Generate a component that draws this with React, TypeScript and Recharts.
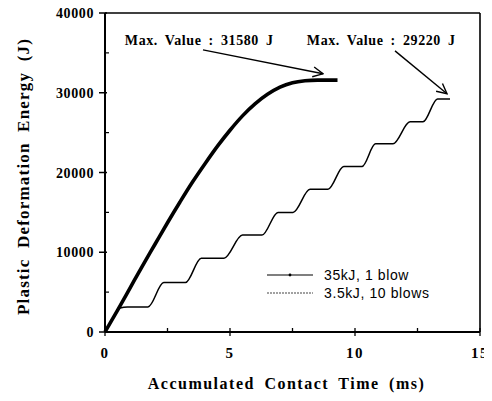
import { LineChart, Line, XAxis, YAxis, ReferenceLine, ReferenceDot, Legend } from "recharts";

// 35 kJ, single blow (thick curve)
const singleBlowTime = [0, 0.5, 1, 1.5, 2, 2.5, 3, 3.5, 4, 4.5, 5, 5.5, 6, 6.5, 7, 7.5, 8, 8.5, 9.3];
const singleBlowEnergy = [0, 2700, 5500, 8300, 11000, 13700, 16300, 18800, 21100, 23300, 25300, 27100, 28600, 29800, 30700, 31250, 31500, 31580, 31580];

// 3.5 kJ, 10 blows (stair curve)
const tenBlowTime = [0, 0.3, 0.6, 0.9, 1.72, 2.35, 3.22, 3.85, 4.76, 5.5, 6.28, 6.92, 7.52, 8.2, 8.92, 9.55, 10.28, 10.82, 11.52, 12.2, 12.72, 13.3, 13.8];
const tenBlowEnergy = [0, 1650, 3000, 3150, 3150, 6200, 6200, 9250, 9250, 12150, 12150, 15000, 15000, 17900, 17900, 20750, 20750, 23600, 23600, 26350, 26350, 29220, 29220];

const seriesNames = ["35kJ, 1 blow", "3.5kJ, 10 blows"];

const xTicks = [0, 2.5, 5, 7.5, 10, 12.5, 15];
const xLabelled = [0, 5, 10, 15];
const yTicks = [0, 5000, 10000, 15000, 20000, 25000, 30000, 35000, 40000];
const yLabelled = [0, 10000, 20000, 30000, 40000];

// "Max. Value" notes: text anchor and arrow from/to, in data units
const noteTexts = ["Max. Value : 31580 J", "Max. Value : 29220 J"];
const noteAt = [[3.77, 36600], [11.05, 36600]];
const arrowFrom = [[3.92, 35375], [11.6, 35250]];
const arrowTo = [[8.72, 32375], [13.68, 29875]];

const singleData = singleBlowTime.map((t, i) => ({ t, e: singleBlowEnergy[i] }));
const tenData = tenBlowTime.map((t, i) => ({ t, e: tenBlowEnergy[i] }));

const SERIF = "'Liberation Serif', 'Times New Roman', serif";
const SANS = "'Liberation Sans', Arial, sans-serif";

function YTick({ x, y, payload }: any) {
  const axisX = x + 9;
  const major = yLabelled.includes(payload.value);
  return (
    <g>
      {major ? (
        <line x1={axisX - 6} y1={y} x2={axisX + 2} y2={y} stroke="#000" strokeWidth={1.5} />
      ) : (
        <line x1={axisX} y1={y} x2={axisX + 4} y2={y} stroke="#000" strokeWidth={1.2} />
      )}
      {major && (
        <text x={x - 2} y={y} dy="0.36em" textAnchor="end" fontFamily={SERIF} fontWeight="bold" fontSize={14} letterSpacing={0.6} fill="#000">
          {payload.value}
        </text>
      )}
    </g>
  );
}

function XTick({ x, y, payload }: any) {
  const axisY = y - 15;
  const major = xLabelled.includes(payload.value);
  return (
    <g>
      <line x1={x} y1={axisY - 4} x2={x} y2={axisY + (major ? 4 : 0)} stroke="#000" strokeWidth={1.3} />
      {major && (
        <text x={x} y={y} dy="0.71em" textAnchor="middle" fontFamily={SERIF} fontWeight="bold" fontSize={15} letterSpacing={1.5} fill="#000">
          {payload.value}
        </text>
      )}
    </g>
  );
}

function LegendBox() {
  return (
    <div style={{ fontFamily: SANS, fontSize: 14, lineHeight: "18px", color: "#000", letterSpacing: 0.6 }}>
      {seriesNames.map((name, i) => (
        <div key={name} style={{ display: "flex", alignItems: "center" }}>
          <svg width={46} height={10}>
            <line x1={0} y1={5} x2={46} y2={5} stroke={i === 0 ? "#000" : "#444"} strokeWidth={1.1} strokeDasharray={i === 0 ? undefined : "2 1"} />
            {i === 0 && <circle cx={23} cy={5} r={1.4} fill="#000" />}
          </svg>
          <span style={{ marginLeft: 11 }}>{name}</span>
        </div>
      ))}
    </div>
  );
}

export default function App() {
  return (
    <div style={{ width: 492, height: 401, margin: -8 }}>
      <LineChart width={492} height={401} margin={{ top: 13, right: 12, bottom: 24, left: 45 }} style={{ overflow: "visible" }}>
        <defs>
          <marker id="arrowHead" viewBox="0 0 12 12" refX={11} refY={6} markerWidth={12} markerHeight={12} markerUnits="userSpaceOnUse" orient="auto">
            <path d="M1,1 L11,6 L1,11" fill="none" stroke="#000" strokeWidth={1.4} />
          </marker>
        </defs>
        <XAxis
          type="number"
          dataKey="t"
          domain={[0, 15]}
          ticks={xTicks}
          interval={0}
          height={45}
          tickSize={5}
          tickMargin={10}
          tickLine={false}
          tick={<XTick />}
          axisLine={{ stroke: "#000", strokeWidth: 2 }}
          label={{
            content: ({ viewBox }: any) => (
              <text
                x={viewBox.x + viewBox.width / 2 - 6}
                y={viewBox.y + 57}
                textAnchor="middle"
                fontFamily={SERIF}
                fontWeight="bold"
                fontSize={16}
                letterSpacing={1.5}
                wordSpacing={4}
                fill="#000"
              >
                Accumulated Contact Time (ms)
              </text>
            ),
          }}
        />
        <YAxis
          type="number"
          domain={[0, 40000]}
          ticks={yTicks}
          interval={0}
          width={60}
          tickSize={5}
          tickMargin={4}
          tickLine={false}
          tick={<YTick />}
          axisLine={{ stroke: "#000", strokeWidth: 2 }}
          label={{
            content: ({ viewBox }: any) => {
              const cx = viewBox.x - 22;
              const cy = viewBox.y + viewBox.height / 2 + 4;
              return (
                <text
                  transform={`translate(${cx},${cy}) rotate(-90)`}
                  textAnchor="middle"
                  dy="0.35em"
                  fontFamily={SERIF}
                  fontWeight="bold"
                  fontSize={17}
                  letterSpacing={1.2}
                  wordSpacing={5}
                  fill="#000"
                >
                  Plastic Deformation Energy (J)
                </text>
              );
            },
          }}
        />
        <ReferenceLine y={40000} stroke="#000" strokeWidth={1.6} />
        <ReferenceLine x={15} stroke="#000" strokeWidth={1.6} />

        {noteTexts.map((txt, i) => (
          <ReferenceDot
            key={txt}
            x={noteAt[i][0]}
            y={noteAt[i][1]}
            r={0}
            stroke="none"
            fill="none"
            label={{
              content: ({ viewBox }: any) => (
                <text
                  x={viewBox.x}
                  y={viewBox.y}
                  dy="0.35em"
                  textAnchor="middle"
                  fontFamily={SERIF}
                  fontWeight="bold"
                  fontSize={14}
                  letterSpacing={0.6}
                  wordSpacing={3}
                  fill="#000"
                >
                  {txt}
                </text>
              ),
            }}
          />
        ))}
        {noteTexts.map((txt, i) => (
          <ReferenceLine
            key={txt + "-arrow"}
            segment={[
              { x: arrowFrom[i][0], y: arrowFrom[i][1] },
              { x: arrowTo[i][0], y: arrowTo[i][1] },
            ]}
            stroke="#000"
            shape={(p: any) => (
              <line x1={p.x1} y1={p.y1} x2={p.x2} y2={p.y2} stroke="#000" strokeWidth={1.4} markerEnd="url(#arrowHead)" />
            )}
          />
        ))}

        <Line
          data={tenData}
          dataKey="e"
          name={seriesNames[1]}
          type="monotone"
          stroke="#000"
          strokeWidth={1.5}
          dot={false}
          isAnimationActive={false}
        />
        <Line
          data={singleData}
          dataKey="e"
          name={seriesNames[0]}
          type="monotone"
          stroke="#000"
          strokeWidth={3.6}
          dot={false}
          isAnimationActive={false}
        />
        <Legend
          layout="vertical"
          align="center"
          verticalAlign="middle"
          content={<LegendBox />}
          wrapperStyle={{ left: 267, top: 266, width: "auto" }}
        />
      </LineChart>
    </div>
  );
}
